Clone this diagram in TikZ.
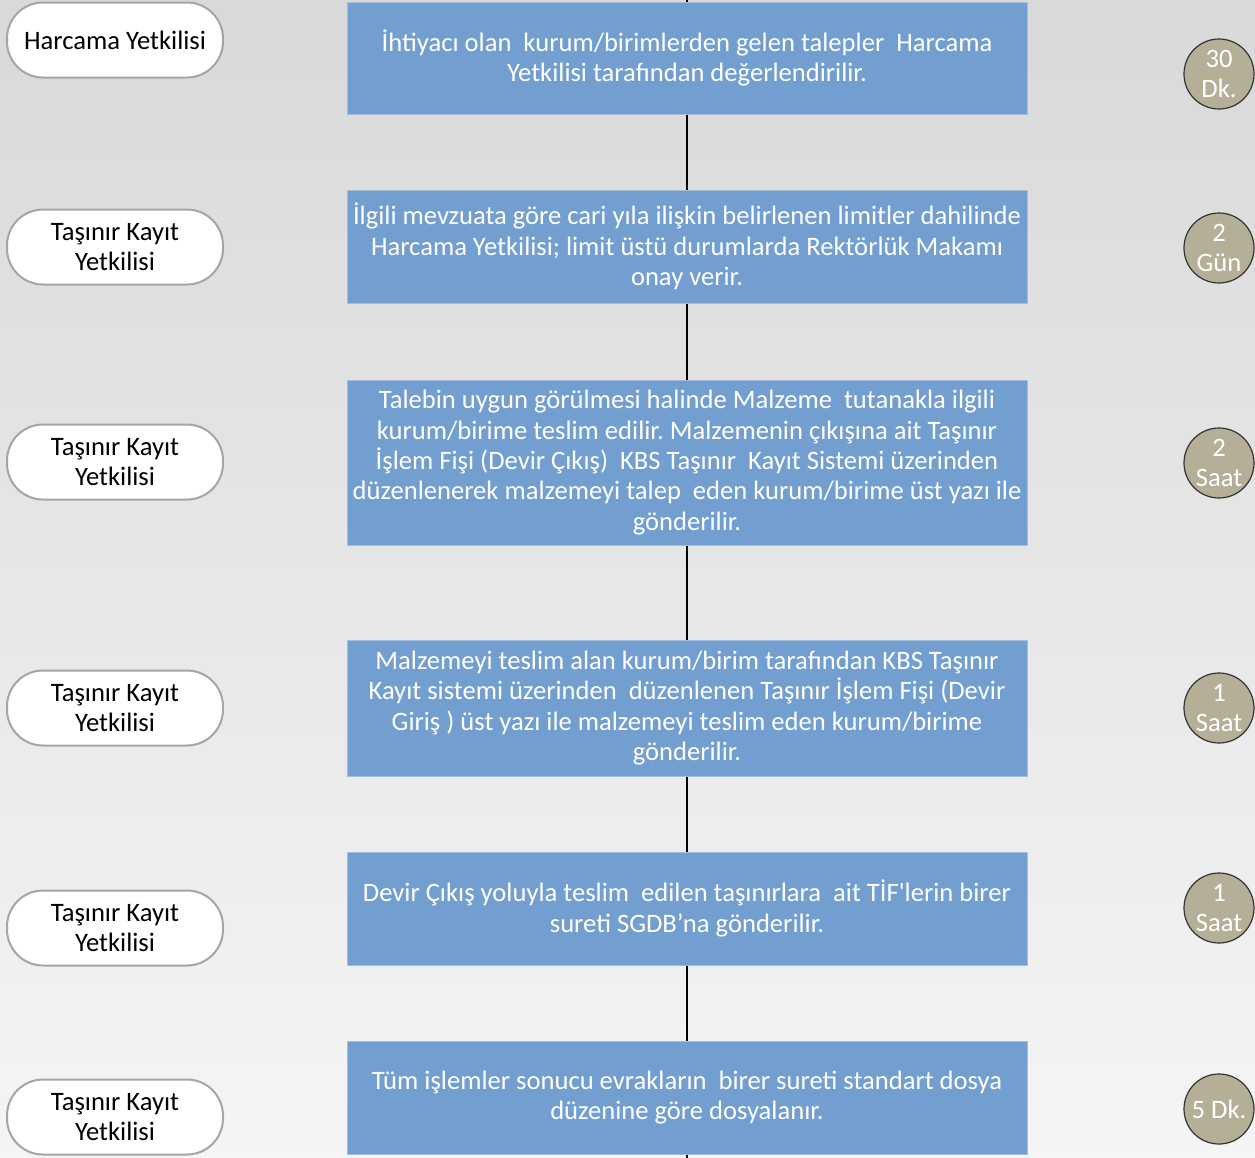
\documentclass[tikz,border=0pt]{standalone}
\usepackage{fontspec}
\setmainfont{Carlito}
\usepackage{xcolor}
\usepackage{tikz}
\usetikzlibrary{arrows}
\frenchspacing

\definecolor{kutu}{RGB}{114,159,207}
\definecolor{kutukenar}{RGB}{165,190,220}
\definecolor{sure}{RGB}{181,175,152}
\definecolor{hapkenar}{RGB}{165,165,165}

\begin{document}
\begin{tikzpicture}[x=0.5pt,y=-0.5pt,
  yetkili/.style={draw=hapkenar,line width=1pt,fill=white,rounded corners=18pt,
    minimum width=108pt,minimum height=37.5pt,align=center,
    font=\fontsize{13.3}{15.2}\selectfont},
  adim/.style={draw=kutukenar,line width=0.5pt,fill=kutu,text=white,
    minimum width=340pt,align=center,inner sep=2pt,
    font=\fontsize{13.3}{15.2}\selectfont},
  zaman/.style={circle,draw=black!80,line width=0.6pt,fill=sure,text=white,
    minimum size=35pt,inner sep=-2pt,align=center,
    font=\fontsize{13.3}{15.2}\selectfont}]
\useasboundingbox (0,0) rectangle (1255,1158);
\shade[top color=black!15,bottom color=black!4] (0,0) rectangle (1255,1158);

\coordinate (Ust) at (687,0);
\coordinate (Alt) at (687,1158);

  \node[yetkili]            (Y1) at (115,40)     {Harcama Yetkilisi};
  \node[yetkili]            (Y2) at (115,247)    {Taşınır Kayıt\\Yetkilisi};
  \node[yetkili]            (Y3) at (115,462)    {Taşınır Kayıt\\Yetkilisi};
  \node[yetkili]            (Y4) at (115,708)    {Taşınır Kayıt\\Yetkilisi};
  \node[yetkili]            (Y5) at (115,928)    {Taşınır Kayıt\\Yetkilisi};
  \node[yetkili]            (Y6) at (115,1117)   {Taşınır Kayıt\\Yetkilisi};

  \node[adim,minimum height=56pt]   (A1) at (687,58)
    {İhtiyacı olan \ kurum/birimlerden gelen talepler \ Harcama\\Yetkilisi tarafından değerlendirilir.};
  \node[adim,minimum height=56.5pt] (A2) at (687,246.5)
    {İlgili mevzuata göre cari yıla ilişkin belirlenen limitler dahilinde\\Harcama Yetkilisi; limit üstü durumlarda Rektörlük Makamı\\onay verir.};
  \node[adim,minimum height=82.5pt] (A3) at (687,462.5)
    {Talebin uygun görülmesi halinde Malzeme \ tutanakla ilgili\\kurum/birime teslim edilir. Malzemenin çıkışına ait Taşınır\\İşlem Fişi (Devir Çıkış) \ KBS Taşınır \ Kayıt Sistemi üzerinden\\düzenlenerek malzemeyi talep \ eden kurum/birime üst yazı ile\\gönderilir.};
  \node[adim,minimum height=68pt]   (A4) at (687,708)
    {Malzemeyi teslim alan kurum/birim tarafından KBS Taşınır\\Kayıt sistemi üzerinden \ düzenlenen Taşınır İşlem Fişi (Devir\\Giriş ) üst yazı ile malzemeyi teslim eden kurum/birime\\gönderilir.};
  \node[adim,minimum height=56.5pt] (A5) at (687,908.5)
    {Devir Çıkış yoluyla teslim \ edilen taşınırlara \ ait TİF\textquotesingle lerin birer\\sureti SGDB’na gönderilir.};
  \node[adim,minimum height=56.5pt] (A6) at (687,1097.5)
    {Tüm işlemler sonucu evrakların \ birer sureti standart dosya\\düzenine göre dosyalanır.};

  \node[zaman]              (S1) at (1219,74)    {30\\Dk.};
  \node[zaman]              (S2) at (1219,248)   {2\\Gün};
  \node[zaman]              (S3) at (1219,463)   {2\\Saat};
  \node[zaman]              (S4) at (1219,708)   {1\\Saat};
  \node[zaman]              (S5) at (1219,908)   {1\\Saat};
  \node[zaman]              (S6) at (1219,1109)  {5 Dk.};

  \path[draw,line width=1pt]
        (Ust) edge (A1)
        (A1) edge (A2)
        (A2) edge (A3)
        (A3) edge (A4)
        (A4) edge (A5)
        (A5) edge (A6)
        (A6) edge (Alt);

\end{tikzpicture}
\end{document}
